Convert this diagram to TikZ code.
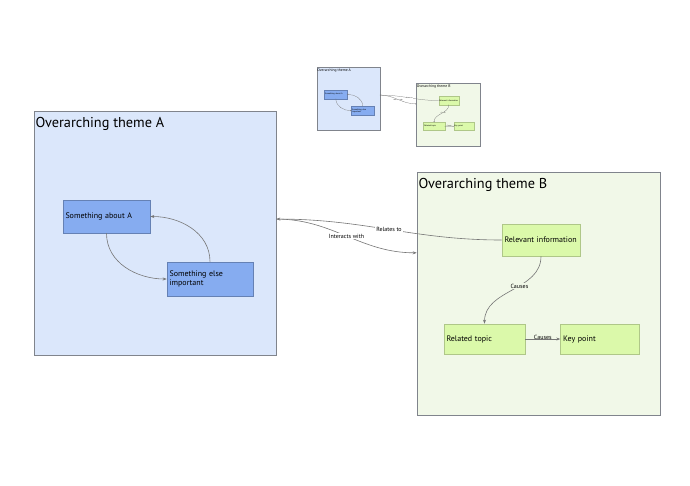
\documentclass[tikz,border=0pt]{standalone}
\usepackage{fontspec}
\setmainfont{PT Sans}
\usetikzlibrary{arrows.meta,positioning,calc}
\definecolor{themeablue}{RGB}{219,231,251}
\definecolor{topicablue}{RGB}{134,172,240}
\definecolor{themebgreen}{RGB}{241,248,232}
\definecolor{topicbgreen}{RGB}{219,249,170}
\definecolor{framegray}{RGB}{128,132,140}
\definecolor{linkgray}{RGB}{118,118,118}

% the whole map, drawn once full size and once as the overview
\newcommand{\thememap}{%
  \node[theme, fill=themeablue, minimum width=242pt, minimum height=244pt] (tA) at (155,233) {};
  \node[title] (tAt) at (tA.north west) {Overarching theme A};
  \node[theme, fill=themebgreen, minimum width=243pt, minimum height=243pt] (tB) at (538.5,293.5) {};
  \node[title] (tBt) at (tB.north west) {Overarching theme B};
  \node[topicA, text width=82pt, minimum height=33pt] (about) at (106.5,216.5) {Something about A};
  \node[topicA, text width=81pt, minimum height=34pt] (else) at (210,279) {Something else\\important};
  \node[topicB, text width=73pt, minimum height=32pt] (info) at (541,240) {Relevant information};
  \node[topicB, text width=76pt, minimum height=30pt] (related) at (484.5,339) {Related topic};
  \node[topicB, text width=74pt, minimum height=30pt, right=35pt of related] (key) {Key point};
  \coordinate (aport) at ($(tA.north east)!0.443!(tA.south east)$);
  \coordinate (bport) at ($(tB.north west)!0.333!(tB.south west)$);
  \draw[arr] (about.south) to[out=-90,in=180] (else.west);
  \draw[arr] (else.north) to[out=90,in=0] (about.east);
  \draw[arr] (info.west) to[out=180,in=0] node[lbl] {Relates to} (aport);
  \draw[arr] (aport) to[out=0,in=180] node[lbl] {Interacts with} (bport);
  \draw[arr] (info.south) to[out=-90,in=90] node[lbl, fill=themebgreen, pos=0.42] {Causes} (related.north);
  \draw[arr] (related) -- node[lbl, fill=none, above=-1.5pt] {Causes} (key);
}

\begin{document}
\begin{tikzpicture}[x=1pt, y=-1pt, line width=0.6pt,
  theme/.style={rectangle, draw=framegray, inner sep=0pt},
  title/.style={anchor=north west, inner sep=1.5pt, yshift=-5pt,
    font=\fontsize{14.3}{16}\selectfont},
  topic/.style={rectangle, inner xsep=2.5pt, inner ysep=1pt, align=left,
    font=\fontsize{8}{9}\selectfont},
  topicA/.style={topic, fill=topicablue, draw=topicablue!75!black},
  topicB/.style={topic, fill=topicbgreen, draw=topicbgreen!80!black},
  lbl/.style={fill=white, inner sep=1pt, font=\fontsize{6}{7}\selectfont},
  arr/.style={-{Stealth[length=4pt,width=3pt]}, draw=linkgray}]
\fill[white] (0,0) rectangle (690,485);
\useasboundingbox (0,0) rectangle (690,485);
\thememap
% overview in the top middle
\begin{scope}[shift={(308.16,38.14)}, scale=0.26, transform shape, name prefix=m-,
  line width=0.25pt, arr/.append style={-{Stealth[length=1.2pt,width=1pt]}}]
\thememap
\end{scope}
\end{tikzpicture}
\end{document}
